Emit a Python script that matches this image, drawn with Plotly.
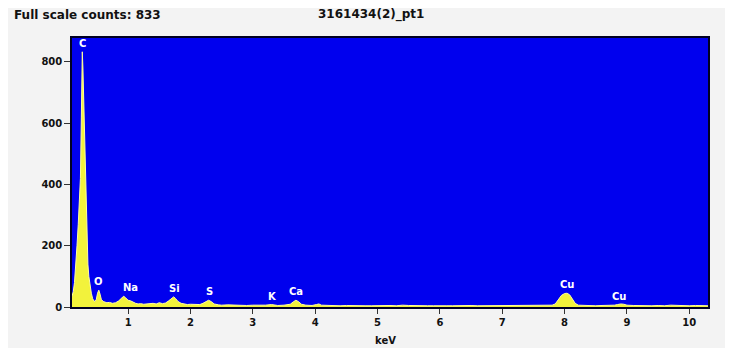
import plotly.graph_objects as go

# ---- spectrum data ----
energy_kev = [
    0.10, 0.12, 0.14, 0.16, 0.18, 0.20, 0.22, 0.235, 0.25, 0.26, 0.265, 0.275, 0.285, 0.30,
    0.31, 0.32, 0.33, 0.34, 0.355, 0.37, 0.39, 0.41, 0.43, 0.45, 0.47, 0.49, 0.51, 0.53,
    0.55, 0.57, 0.60, 0.63, 0.66, 0.70, 0.75, 0.80, 0.85, 0.90, 0.93, 0.96, 1.00, 1.04,
    1.08, 1.12, 1.16, 1.20, 1.25, 1.30, 1.35, 1.40, 1.45, 1.50, 1.55, 1.60, 1.65, 1.70,
    1.73, 1.76, 1.80, 1.85, 1.90, 1.95, 2.00, 2.05, 2.10, 2.15, 2.20, 2.25, 2.29, 2.33,
    2.38, 2.45, 2.50, 2.60, 2.70, 2.80, 2.90, 3.00, 3.10, 3.20, 3.30, 3.35, 3.40, 3.50,
    3.60, 3.65, 3.69, 3.73, 3.78, 3.85, 3.95, 4.02, 4.06, 4.10, 4.20, 4.30, 4.40, 4.50,
    4.60, 4.70, 4.80, 4.90, 5.00, 5.10, 5.20, 5.30, 5.40, 5.50, 5.60, 5.70, 5.80, 5.90,
    6.00, 6.10, 6.20, 6.30, 6.40, 6.50, 6.60, 6.70, 6.80, 6.90, 7.00, 7.10, 7.20, 7.30,
    7.40, 7.50, 7.60, 7.70, 7.80, 7.85, 7.90, 7.95, 8.00, 8.04, 8.08, 8.12, 8.17, 8.22,
    8.30, 8.40, 8.50, 8.60, 8.70, 8.80, 8.85, 8.90, 8.95, 9.00, 9.10, 9.20, 9.30, 9.40,
    9.50, 9.60, 9.70, 9.80, 9.90, 10.00, 10.10, 10.20, 10.30,
]
counts = [
    35, 50, 80, 130, 200, 270, 350, 420, 620, 790, 833, 780, 690, 600,
    490, 400, 290, 200, 140, 100, 65, 45, 28, 20, 18, 25, 45, 55,
    42, 25, 18, 16, 14, 15, 12, 14, 20, 30, 35, 30, 22, 20,
    15, 12, 10, 11, 9, 10, 9, 12, 10, 14, 11, 13, 20, 30,
    33, 28, 18, 12, 9, 8, 9, 8, 7, 8, 12, 19, 22, 18,
    10, 7, 6, 7, 6, 6, 5, 6, 5, 6, 8, 6, 5, 6,
    9, 17, 22, 18, 9, 6, 5, 8, 10, 6, 5, 5, 4, 5,
    4, 5, 4, 4, 5, 4, 5, 4, 6, 5, 4, 5, 4, 4,
    5, 4, 4, 5, 4, 5, 4, 4, 5, 4, 5, 4, 4, 5,
    4, 5, 4, 5, 6, 10, 25, 38, 44, 45, 40, 28, 12, 6,
    5, 5, 4, 5, 5, 6, 8, 10, 9, 6, 5, 4, 5, 4,
    5, 4, 6, 5, 4, 4, 5, 4, 4,
]

# element labels
element_names = ["C", "O", "Na", "Si", "S", "K", "Ca", "Cu", "Cu"]
element_kev = [0.27, 0.52, 1.04, 1.74, 2.31, 3.31, 3.69, 8.04, 8.87]
element_peak = [833, 55, 35, 33, 22, 8, 22, 45, 8]

x_ticks = [1, 2, 3, 4, 5, 6, 7, 8, 9, 10]
y_ticks = [0, 200, 400, 600, 800]

title_left = "Full scale counts: 833"
title_mid = "3161434(2)_pt1"
x_label = "keV"

FONT = "DejaVu Sans"

fig = go.Figure()
fig.add_trace(go.Scatter(
    x=energy_kev, y=counts, mode="lines",
    line=dict(color="#ffff9a", width=1),
    fill="tozeroy", fillcolor="#f2f23c",
    hoverinfo="skip", showlegend=False,
))

for name, ex, ey in zip(element_names, element_kev, element_peak):
    fig.add_annotation(
        x=ex, y=ey, text=f"<b>{name}</b>", showarrow=False,
        xanchor="center", yanchor="bottom", yshift=1,
        font=dict(family=FONT, size=10, color="white"),
    )

fig.add_annotation(xref="paper", yref="paper", x=-0.094, y=1.086,
                   xanchor="left", yanchor="middle", showarrow=False,
                   text=f"<b>{title_left}</b>",
                   font=dict(family=FONT, size=12, color="#111"))
fig.add_annotation(xref="paper", yref="paper", x=0.470, y=1.086,
                   xanchor="center", yanchor="middle", showarrow=False,
                   text=f"<b>{title_mid}</b>",
                   font=dict(family=FONT, size=12, color="#111"))
fig.add_annotation(xref="paper", yref="paper", x=0.493, y=-0.123,
                   xanchor="center", yanchor="middle", showarrow=False,
                   text=f"<b>{x_label}</b>",
                   font=dict(family=FONT, size=10, color="#111"))

fig.update_layout(
    width=725, height=340,
    margin=dict(l=64, r=25, t=30, b=41),
    paper_bgcolor="#f3f3f3",
    plot_bgcolor="#0000ee",
    xaxis=dict(
        range=[0.1, 10.3], tickvals=x_ticks, ticks="outside", ticklen=5,
        tickcolor="#333", tickwidth=1, showgrid=False, zeroline=False,
        showline=True, linecolor="#000022", linewidth=1.5, mirror=True,
        tickfont=dict(family=FONT, size=10, color="#111", weight="bold"),
    ),
    yaxis=dict(
        range=[0, 878], tickvals=y_ticks, ticks="outside", ticklen=6,
        tickcolor="#333", tickwidth=1, showgrid=False, zeroline=False,
        showline=True, linecolor="#000022", linewidth=1.5, mirror=True,
        tickfont=dict(family=FONT, size=10, color="#111", weight="bold"),
    ),
)

fig.write_html("out.html")
